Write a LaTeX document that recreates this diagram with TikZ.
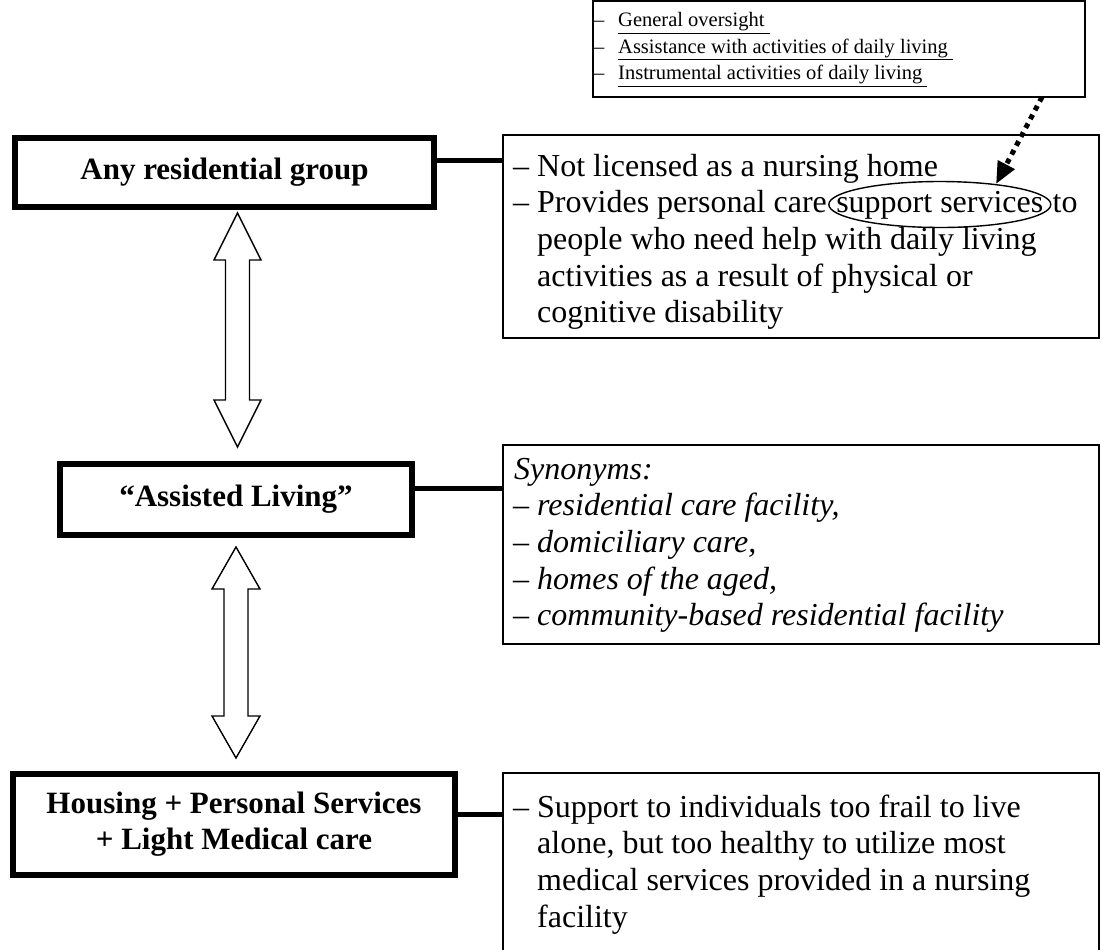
\documentclass[tikz,border=0pt]{standalone}
\usepackage{fontspec}
\setmainfont{Liberation Serif}
\usetikzlibrary{shapes.geometric,arrows.meta,calc}
\newcommand{\dblarrow}[4]{%
  \path[fatarrow] let \p1=(#1), \p2=(#2) in
    (\x1,\y1) -- (\x1+#4,\y1-#3) -- (\x1+12,\y1-#3) -- (\x1+12,\y2+#3) -- (\x1+#4,\y2+#3)
    -- (\x2,\y2) -- (\x1-#4,\y2+#3) -- (\x1-12,\y2+#3) -- (\x1-12,\y1-#3) -- (\x1-#4,\y1-#3) -- cycle;}
\begin{document}
\begin{tikzpicture}[x=1pt,y=-1pt,
  mainbox/.style={draw, line width=6pt, inner sep=0pt, align=center, font=\fontsize{31}{36}\selectfont\bfseries},
  infobox/.style={draw, line width=1.6pt, inner sep=0pt},
  conn/.style={line width=5pt},
  fatarrow/.style={draw, line width=1.4pt, fill=white, line join=miter},
  body/.style={anchor=base west, inner sep=0pt, font=\fontsize{32}{36.7}\selectfont},
  bodyit/.style={anchor=base west, inner sep=0pt, font=\fontsize{32}{36.7}\selectfont\itshape},
  small/.style={anchor=base west, inner sep=0pt, font=\fontsize{20.5}{26}\selectfont},
  dotarrow/.style={line width=5pt, dash pattern=on 5pt off 5pt, -{Triangle[length=22pt,width=18pt]}},
  ring/.style={draw, ellipse, line width=1.4pt, minimum width=222pt, minimum height=46pt, inner sep=0pt},
]
\useasboundingbox (0,0) rectangle (1101,950);
\clip (0,0) rectangle (1101,950);

% main boxes
\node[mainbox, minimum width=419pt, minimum height=69pt] (b1) at (224.5,172.5) {Any residential group};
\node[mainbox, minimum width=352pt, minimum height=71pt] (b2) at (236,499.5) {“Assisted Living”};
\node[mainbox, minimum width=442pt, minimum height=101pt] (b3) at (234,824.5) {Housing + Personal Services\\+ Light Medical care};

% info boxes
\node[infobox, minimum width=492pt, minimum height=96pt] (t) at (839,49) {};
\node[infobox, minimum width=596pt, minimum height=203pt] (r1) at (801,236.5) {};
\node[infobox, minimum width=596pt, minimum height=199pt] (r2) at (801,544.5) {};
\node[infobox, minimum width=596pt, minimum height=187pt] (r3) at (801,866.5) {};

% connectors
\coordinate (c1) at (0,160);
\coordinate (c2) at (0,488);
\coordinate (c3) at (0,814);
\draw[conn] (b1.east |- c1) -- (r1.west |- c1);
\draw[conn] (b2.east |- c2) -- (r2.west |- c2);
\draw[conn] (b3.east |- c3) -- (r3.west |- c3);

% double arrows
\coordinate (a1t) at (237.5,213);
\coordinate (a1b) at (237.5,447);
\coordinate (a2t) at (236,547);
\coordinate (a2b) at (236,758);
\dblarrow{a1t}{a1b}{47}{23.5}
\dblarrow{a2t}{a2b}{42}{24}

% top box text
\node[small] (td1) at (594,27) {–};
\node[small] (tl1) at (618,27) {\underline{General oversight\ }};
\node[small] (td2) at (594,53.5) {–};
\node[small] (tl2) at (618,53.5) {\underline{Assistance with activities of daily living\ }};
\node[small] (td3) at (594,80) {–};
\node[small] (tl3) at (618,80) {\underline{Instrumental activities of daily living\ }};

% r1 text
\node[body] (d11) at (513,176) {–};
\node[body] (l11) at (537,176) {Not licensed as a nursing home};
\node[body] (d12) at (513,212.7) {–};
\node[body] (l12) at (537,212.7) {Provides personal care};
\node[body] (ss) at ($(l12.base east)+(9,0)$) {support services};
\node[ring] (ell) at ($(ss.center)+(0,-1)$) {};
\node[body] (l12b) at ($(ss.base east)+(9,0)$) {to};
\node[body] (l13) at (537,249.4) {people who need help with daily living};
\node[body] (l14) at (537,286.1) {activities as a result of physical or};
\node[body] (l15) at (537,322.8) {cognitive disability};

% dotted arrow
\coordinate (ds) at (1042,97);
\draw[dotarrow] (ds) -- (ell.20);

% r2 text
\node[bodyit] (l20) at (514,479) {Synonyms:};
\node[body] (d21) at (513,515.7) {–};
\node[bodyit] (l21) at (537,515.7) {residential care facility,};
\node[body] (d22) at (513,552.4) {–};
\node[bodyit] (l22) at (537,552.4) {domiciliary care,};
\node[body] (d23) at (513,589.1) {–};
\node[bodyit] (l23) at (537,589.1) {homes of the aged,};
\node[body] (d24) at (513,625.8) {–};
\node[bodyit] (l24) at (537,625.8) {community-based residential facility};

% r3 text
\node[body] (d31) at (513,817) {–};
\node[body] (l31) at (537,817) {Support to individuals too frail to live};
\node[body] (l32) at (537,853.7) {alone, but too healthy to utilize most};
\node[body] (l33) at (537,890.4) {medical services provided in a nursing};
\node[body] (l34) at (537,927.1) {facility};
\end{tikzpicture}
\end{document}
